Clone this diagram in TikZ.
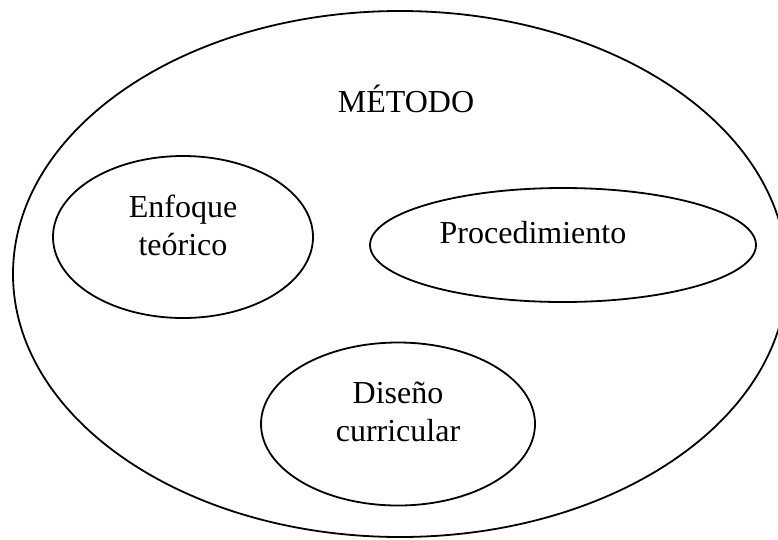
\documentclass[tikz,border=0pt]{standalone}
\usepackage{fontspec}
\setmainfont{Liberation Serif}
\usetikzlibrary{shapes.geometric}
\tikzset{
  oval/.style={draw=black, line width=1.8pt, ellipse, inner sep=0pt, outer sep=0pt},
  lbl/.style={font=\fontsize{32}{38}\selectfont, inner sep=0pt, align=center, anchor=base}
}
\begin{document}
\begin{tikzpicture}[x=1pt,y=-1pt]
\useasboundingbox (0,0) rectangle (778,539);
\fill[white] (0,0) rectangle (778,539);
\node[oval, minimum width=774pt, minimum height=526pt] (metodo) at (400,274) {};
\node[oval, minimum width=260pt, minimum height=162pt] (enfoque) at (183,237) {};
\node[oval, minimum width=386pt, minimum height=114pt] (proc) at (563,245) {};
\node[oval, minimum width=274pt, minimum height=163pt] (diseno) at (398,424) {};
\node[lbl] (tmetodo) at (406,112) {MÉTODO};
\node[lbl] (tenfoque) at (183,255) {Enfoque\\teórico};
\node[lbl] (tproc) at (533,243) {Procedimiento};
\node[lbl] (tdiseno) at (398,441) {Diseño\\curricular};
\end{tikzpicture}
\end{document}
